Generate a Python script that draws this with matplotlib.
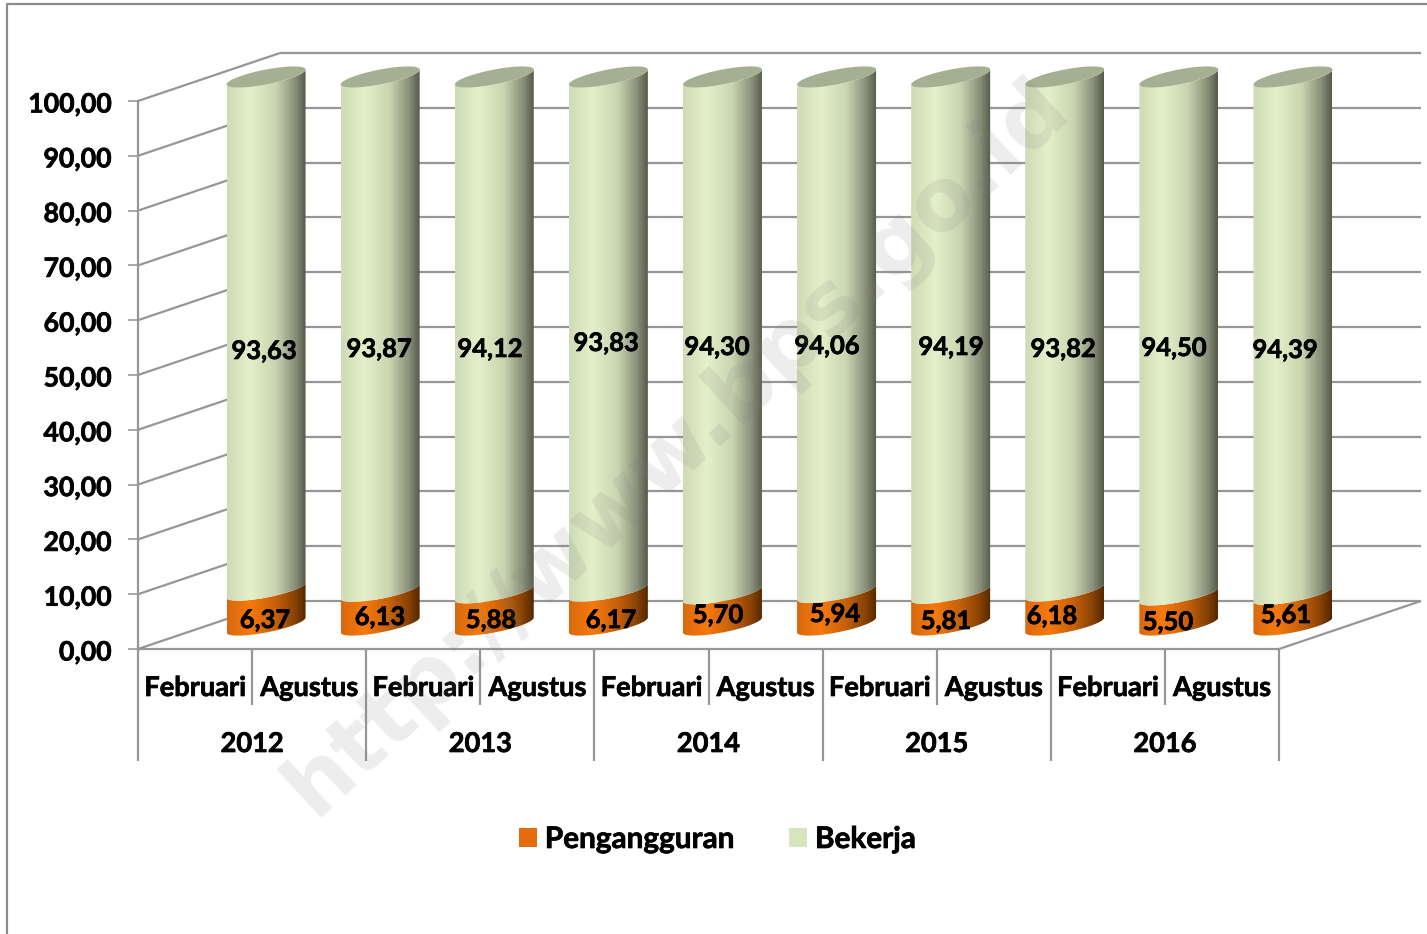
"""
plot.py
-------
Penganggur vs bekerja per Februari/Agustus 2012-2016, Excel style 3D cylinders.
"""

import numpy as np
import matplotlib.pyplot as plt
import matplotlib.patheffects as pe
from matplotlib.colors import to_rgb
from matplotlib.lines import Line2D
from matplotlib.patches import Patch, PathPatch, Polygon
from matplotlib.path import Path
from matplotlib.transforms import ScaledTranslation

plt.rcParams["font.family"] = ["Lato", "DejaVu Sans"]
plt.rcParams["font.weight"] = "bold"

YEARS = ["2012", "2013", "2014", "2015", "2016"]
MONTHS = ["Februari", "Agustus"]
PENGANGGURAN = [6.37, 6.13, 5.88, 6.17, 5.70, 5.94, 5.81, 6.18, 5.50, 5.61]
BEKERJA = [93.63, 93.87, 94.12, 93.83, 94.30, 94.06, 94.19, 93.82, 94.50, 94.39]
Y_TICKS = [0, 10, 20, 30, 40, 50, 60, 70, 80, 90, 100]

# Layout, in reference pixels
W, H = 1427, 934
LEFT, RIGHT, BOTTOM, TOP = 138, 1279, 649, 101
SLOT = (RIGHT - LEFT) / 10
UNIT = (BOTTOM - TOP) / 100
DX = 142 / SLOT     # depth of the floor, in slots
DY = 48 / UNIT      # depth of the floor, in value units
HALF_W = 39.5 / SLOT
TILT = 7.5 / UNIT
MINOR = 7.5 / UNIT

# Hand placed data labels (centres in pixels), as in the original
BEKERJA_LABEL_XY = [(264, 351), (379, 349), (490, 349), (606, 343), (717, 347),
                    (827, 346), (951, 347), (1063, 349), (1174, 348), (1285, 350)]
PENGANGGURAN_LABEL_XY = [(265, 620), (380, 617), (491, 620), (611, 620), (718, 615),
                         (835, 614), (946, 621), (1052, 616), (1168, 622), (1286, 615)]

GREY = "#969696"
STOPS = [0, 0.3, 0.62, 0.86, 1]
GREEN_STOPS = ["#d0dbb6", "#e4f0c9", "#c9d4b1", "#8a907a", "#555b48"]
ORANGE_STOPS = ["#d9690d", "#f6790d", "#c5600a", "#874205", "#532700"]
TOP_COLOR = "#a5b092"
FS = 19.6


def px(x, y):
    """Reference pixel -> data coords of the front plane."""
    return (x - LEFT) / SLOT, (BOTTOM - y) / UNIT


def gradient(colors):
    rgb = np.array([to_rgb(c) for c in colors])
    s = np.linspace(0, 1, 256)
    return np.stack([np.interp(s, STOPS, rgb[:, k]) for k in range(3)], axis=1)[None, :, :]


def arc(cx, v, t):
    return cx + HALF_W * np.cos(t), v + TILT * np.cos(t) + MINOR * np.sin(t)


def segment(ax, cx, v0, v1, colors):
    """Side of a cylinder between two values, filled with a horizontal gradient."""
    t = np.linspace(np.pi, 2 * np.pi, 60)
    x0, y0 = arc(cx, v0, t)
    x1, y1 = arc(cx, v1, t[::-1])
    verts = np.r_[np.c_[x0, y0], np.c_[x1, y1], [[x0[0], y0[0]]]]
    clip = PathPatch(Path(verts), fc="none", ec="none", transform=ax.transData, clip_on=False)
    ax.add_patch(clip)
    im = ax.imshow(gradient(colors), extent=[cx - HALF_W, cx + HALF_W, v0 - 5, v1 + 5],
                   aspect="auto", interpolation="bilinear", zorder=3)
    im.set_clip_box(fig.bbox)
    im.set_clip_path(clip)


fig = plt.figure(figsize=(W / 100, H / 100), dpi=100)
ax = fig.add_axes([LEFT / W, 1 - BOTTOM / H, (RIGHT - LEFT) / W, (BOTTOM - TOP) / H])
ax.patch.set_visible(False)

# =========================================================
# WALLS AND FLOOR
# =========================================================

line = dict(color=GREY, lw=1.6, clip_on=False, solid_capstyle="butt")
for v in Y_TICKS:
    ax.plot([0, DX], [v, v + DY], zorder=1, **line)
    ax.plot([DX, 10 + DX], [v + DY, v + DY], zorder=1, **line)
ax.plot([10, 10 + DX], [0, DY], zorder=1, **line)

for s in range(11):
    low = -20.4 if s % 2 == 0 else -10.2
    ax.plot([s, s], [0, low], zorder=1, **line)

# =========================================================
# CYLINDERS
# =========================================================

for i, (p, b) in enumerate(zip(PENGANGGURAN, BEKERJA)):
    cx = i + 0.5 + DX / 2
    base = DY / 2
    segment(ax, cx, base, base + p, ORANGE_STOPS)
    segment(ax, cx, base + p, base + p + b, GREEN_STOPS)
    t = np.linspace(0, 2 * np.pi, 120)
    ax.add_patch(Polygon(np.c_[arc(cx, base + p + b, t)], closed=True, fc=TOP_COLOR,
                         ec="none", zorder=4, clip_on=False))

for xy, v in zip(BEKERJA_LABEL_XY, BEKERJA):
    ax.text(*px(*xy), f"{v:.2f}".replace(".", ","), ha="center", va="center",
            fontsize=18.4, zorder=6, color="black", clip_on=False)
for xy, v in zip(PENGANGGURAN_LABEL_XY, PENGANGGURAN):
    ax.text(*px(*xy), f"{v:.2f}".replace(".", ","), ha="center", va="center",
            fontsize=18.4, zorder=6, color="black", clip_on=False)

# =========================================================
# AXES
# =========================================================

ax.set_xlim(0, 10)
ax.set_ylim(0, 100)
ax.set_xticks([])
ax.set_yticks(Y_TICKS)
ax.set_yticklabels([f"{v:.2f}".replace(".", ",") for v in Y_TICKS], fontsize=19.2)
ax.tick_params(axis="y", length=7.2, width=1.15, color=GREY, pad=12)
nudge = ScaledTranslation(0, -1.5 / 100, fig.dpi_scale_trans)
for lab in ax.get_yticklabels():
    lab.set_transform(lab.get_transform() + nudge)
for side in ["top", "right"]:
    ax.spines[side].set_visible(False)
for side in ["left", "bottom"]:
    ax.spines[side].set_color(GREY)
    ax.spines[side].set_linewidth(1.6)

for i, year in enumerate(YEARS):
    ax.text(2 * i + 1, px(0, 744)[1], year, ha="center", va="center", fontsize=FS)
    for j, month in enumerate(MONTHS):
        ax.text(2 * i + j + 0.5, px(0, 688)[1], month, ha="center", va="center", fontsize=FS)

handles = [Patch(fc="#e46c0a", ec="none", label="Pengangguran"),
           Patch(fc="#d7e4bd", ec="none", label="Bekerja")]
leg = fig.legend(handles=handles, ncol=2, loc="center", bbox_to_anchor=(717.5 / W, 1 - 839 / H),
                 frameon=False, fontsize=21.4, handlelength=0.6, handleheight=0.6,
                 handletextpad=0.27, columnspacing=1.83)

# Calibri bold is a bit heavier than Lato bold
stroke = [pe.withStroke(linewidth=0.5, foreground="black")]
for txt in ax.texts + ax.get_yticklabels() + leg.get_texts():
    txt.set_path_effects(stroke)

# Outer chart border, only top and left show in the crop
fig.add_artist(Line2D([7 / W, 7 / W, 1], [0, 1 - 4 / H, 1 - 4 / H], color="#8c8c8c", lw=1.6))

# Watermark
fig.text(677 / W, 1 - 447 / H, "http://www.bps.go.id", rotation=43, rotation_mode="anchor",
         ha="center", va="center", fontsize=63, family=["DejaVu Sans"], fontweight="bold",
         color="#7f7f7f", alpha=0.14, zorder=10)

plt.savefig("out.png", dpi=100)
plt.close()
